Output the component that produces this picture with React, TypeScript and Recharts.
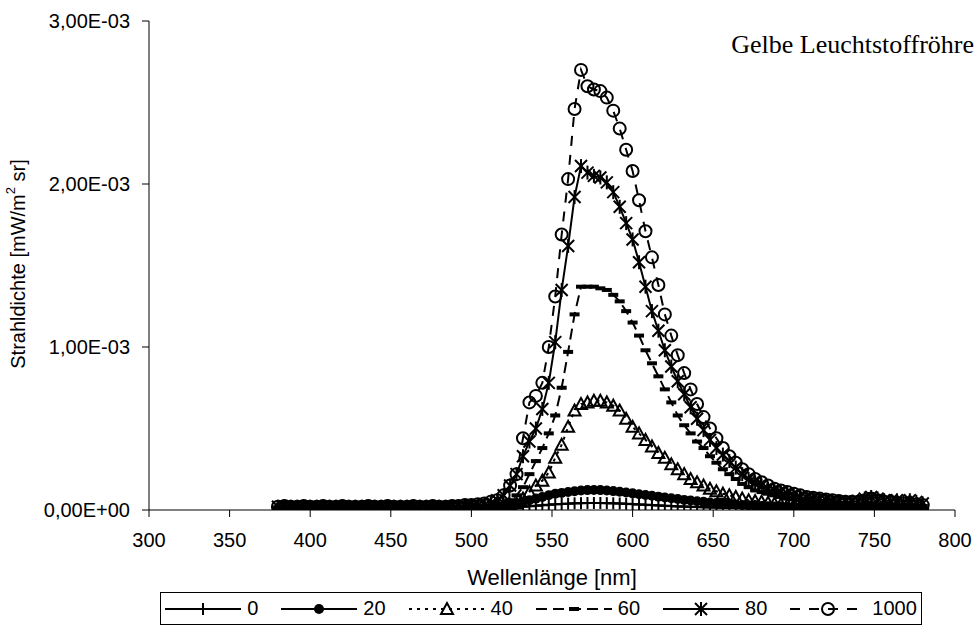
import React from 'react';
import { LineChart, Line, XAxis, YAxis, Label } from 'recharts';

const wavelengths = [
  380, 384, 388, 392, 396, 400, 404, 408, 412, 416, 420, 424, 428, 432, 436, 440, 444, 448, 452, 456,
  460, 464, 468, 472, 476, 480, 484, 488, 492, 496, 500, 504, 508,
  512, 516, 520, 524, 528, 532, 536, 540, 544, 548, 552, 556, 560, 564, 568, 572, 576, 580, 584, 588,
  592, 596, 600, 604, 608, 612, 616, 620, 624, 628, 632, 636, 640, 644, 648, 652, 656, 660, 664, 668,
  672, 676, 680, 684, 688, 692, 696, 700, 704, 708, 712, 716, 720, 724, 728, 732, 736, 740, 744, 748,
  752, 756, 760, 764, 768, 772, 776, 780,
];

const s0 = [
  0.005e-3, 0.006e-3, 0.005e-3, 0.005e-3, 0.006e-3, 0.005e-3, 0.005e-3, 0.005e-3, 0.006e-3, 0.005e-3,
  0.005e-3, 0.006e-3, 0.005e-3, 0.005e-3, 0.005e-3, 0.006e-3, 0.005e-3, 0.005e-3, 0.006e-3, 0.005e-3,
  0.005e-3, 0.005e-3, 0.006e-3, 0.005e-3, 0.005e-3, 0.006e-3, 0.005e-3, 0.005e-3, 0.005e-3, 0.006e-3,
  0.005e-3, 0.005e-3, 0.006e-3,
  0.006e-3, 0.008e-3, 0.01e-3, 0.013e-3, 0.016e-3,
  0.02e-3, 0.023e-3, 0.026e-3, 0.029e-3, 0.032e-3,
  0.035e-3, 0.037e-3, 0.039e-3, 0.041e-3, 0.042e-3,
  0.043e-3, 0.043e-3, 0.043e-3, 0.042e-3, 0.041e-3,
  0.04e-3, 0.038e-3, 0.036e-3, 0.034e-3, 0.032e-3,
  0.03e-3, 0.028e-3, 0.026e-3, 0.024e-3, 0.022e-3,
  0.021e-3, 0.02e-3, 0.018e-3, 0.017e-3, 0.016e-3,
  0.015e-3, 0.014e-3, 0.013e-3, 0.012e-3, 0.011e-3,
  0.011e-3, 0.01e-3, 0.01e-3, 0.009e-3, 0.009e-3,
  0.008e-3, 0.008e-3, 0.008e-3, 0.008e-3, 0.007e-3,
  0.007e-3, 0.007e-3, 0.007e-3, 0.007e-3, 0.007e-3,
  0.007e-3, 0.007e-3, 0.007e-3, 0.008e-3, 0.008e-3,
  0.007e-3, 0.007e-3, 0.007e-3, 0.006e-3, 0.006e-3,
  0.006e-3, 0.006e-3, 0.006e-3,
];

const s20 = [
  0.008e-3, 0.009e-3, 0.008e-3, 0.008e-3, 0.009e-3, 0.008e-3, 0.008e-3, 0.009e-3, 0.008e-3, 0.008e-3,
  0.009e-3, 0.008e-3, 0.008e-3, 0.008e-3, 0.009e-3, 0.008e-3, 0.008e-3, 0.009e-3, 0.008e-3, 0.008e-3,
  0.008e-3, 0.009e-3, 0.008e-3, 0.008e-3, 0.009e-3, 0.008e-3, 0.008e-3, 0.009e-3, 0.008e-3, 0.009e-3,
  0.009e-3, 0.009e-3, 0.01e-3,
  0.01e-3, 0.015e-3, 0.02e-3, 0.03e-3, 0.04e-3,
  0.05e-3, 0.06e-3, 0.07e-3, 0.08e-3, 0.09e-3,
  0.1e-3, 0.105e-3, 0.11e-3, 0.115e-3, 0.12e-3,
  0.122e-3, 0.123e-3, 0.122e-3, 0.12e-3, 0.116e-3,
  0.112e-3, 0.107e-3, 0.102e-3, 0.097e-3, 0.092e-3,
  0.087e-3, 0.082e-3, 0.077e-3, 0.072e-3, 0.067e-3,
  0.062e-3, 0.058e-3, 0.054e-3, 0.05e-3, 0.046e-3,
  0.043e-3, 0.04e-3, 0.037e-3, 0.034e-3, 0.031e-3,
  0.029e-3, 0.027e-3, 0.025e-3, 0.023e-3, 0.022e-3,
  0.021e-3, 0.02e-3, 0.019e-3, 0.018e-3, 0.017e-3,
  0.017e-3, 0.016e-3, 0.016e-3, 0.015e-3, 0.015e-3,
  0.015e-3, 0.015e-3, 0.016e-3, 0.018e-3, 0.016e-3,
  0.015e-3, 0.015e-3, 0.014e-3, 0.014e-3, 0.014e-3,
  0.013e-3, 0.013e-3, 0.012e-3,
];

const s40 = [
  0.012e-3, 0.013e-3, 0.012e-3, 0.012e-3, 0.013e-3, 0.012e-3, 0.012e-3, 0.013e-3, 0.012e-3, 0.012e-3,
  0.013e-3, 0.012e-3, 0.012e-3, 0.012e-3, 0.013e-3, 0.012e-3, 0.012e-3, 0.013e-3, 0.012e-3, 0.012e-3,
  0.012e-3, 0.013e-3, 0.012e-3, 0.012e-3, 0.013e-3, 0.012e-3, 0.012e-3, 0.013e-3, 0.013e-3, 0.013e-3,
  0.013e-3, 0.014e-3, 0.014e-3,
  0.015e-3, 0.02e-3, 0.025e-3, 0.03e-3, 0.04e-3,
  0.07e-3, 0.11e-3, 0.15e-3, 0.18e-3, 0.23e-3,
  0.32e-3, 0.4e-3, 0.51e-3, 0.61e-3, 0.65e-3,
  0.66e-3, 0.67e-3, 0.67e-3, 0.66e-3, 0.64e-3,
  0.61e-3, 0.56e-3, 0.51e-3, 0.47e-3, 0.43e-3,
  0.39e-3, 0.35e-3, 0.32e-3, 0.28e-3, 0.25e-3,
  0.22e-3, 0.19e-3, 0.17e-3, 0.15e-3, 0.13e-3,
  0.115e-3, 0.1e-3, 0.09e-3, 0.08e-3, 0.07e-3,
  0.06e-3, 0.055e-3, 0.05e-3, 0.045e-3, 0.04e-3,
  0.035e-3, 0.03e-3, 0.03e-3, 0.025e-3, 0.025e-3,
  0.02e-3, 0.02e-3, 0.02e-3, 0.02e-3, 0.02e-3,
  0.02e-3, 0.02e-3, 0.02e-3, 0.025e-3, 0.025e-3,
  0.02e-3, 0.02e-3, 0.02e-3, 0.02e-3, 0.02e-3,
  0.02e-3, 0.02e-3, 0.02e-3,
];

const s60 = [
  0.015e-3, 0.016e-3, 0.015e-3, 0.015e-3, 0.016e-3, 0.015e-3, 0.015e-3, 0.016e-3, 0.015e-3, 0.015e-3,
  0.016e-3, 0.015e-3, 0.015e-3, 0.015e-3, 0.016e-3, 0.015e-3, 0.015e-3, 0.016e-3, 0.015e-3, 0.015e-3,
  0.015e-3, 0.016e-3, 0.015e-3, 0.015e-3, 0.016e-3, 0.015e-3, 0.015e-3, 0.016e-3, 0.016e-3, 0.017e-3,
  0.017e-3, 0.018e-3, 0.018e-3,
  0.02e-3, 0.03e-3, 0.04e-3, 0.06e-3, 0.09e-3,
  0.14e-3, 0.22e-3, 0.3e-3, 0.38e-3, 0.47e-3,
  0.58e-3, 0.75e-3, 0.97e-3, 1.2e-3, 1.37e-3,
  1.37e-3, 1.37e-3, 1.36e-3, 1.35e-3, 1.32e-3,
  1.28e-3, 1.22e-3, 1.15e-3, 1.07e-3, 0.98e-3,
  0.9e-3, 0.82e-3, 0.74e-3, 0.66e-3, 0.58e-3,
  0.52e-3, 0.47e-3, 0.42e-3, 0.38e-3, 0.33e-3,
  0.29e-3, 0.25e-3, 0.22e-3, 0.19e-3, 0.16e-3,
  0.14e-3, 0.12e-3, 0.11e-3, 0.1e-3, 0.09e-3,
  0.08e-3, 0.07e-3, 0.065e-3, 0.06e-3, 0.055e-3,
  0.05e-3, 0.045e-3, 0.04e-3, 0.04e-3, 0.035e-3,
  0.035e-3, 0.03e-3, 0.03e-3, 0.035e-3, 0.04e-3,
  0.035e-3, 0.03e-3, 0.03e-3, 0.03e-3, 0.03e-3,
  0.025e-3, 0.025e-3, 0.025e-3,
];

const s80 = [
  0.02e-3, 0.022e-3, 0.02e-3, 0.02e-3, 0.022e-3, 0.02e-3, 0.02e-3, 0.022e-3, 0.02e-3, 0.02e-3,
  0.022e-3, 0.02e-3, 0.02e-3, 0.02e-3, 0.022e-3, 0.02e-3, 0.02e-3, 0.022e-3, 0.02e-3, 0.02e-3,
  0.02e-3, 0.022e-3, 0.02e-3, 0.02e-3, 0.022e-3, 0.02e-3, 0.02e-3, 0.022e-3, 0.022e-3, 0.024e-3,
  0.025e-3, 0.028e-3, 0.03e-3,
  0.04e-3, 0.06e-3, 0.09e-3, 0.15e-3, 0.22e-3,
  0.33e-3, 0.42e-3, 0.5e-3, 0.62e-3, 0.78e-3,
  1.03e-3, 1.35e-3, 1.62e-3, 1.92e-3, 2.11e-3,
  2.07e-3, 2.05e-3, 2.04e-3, 2.01e-3, 1.95e-3,
  1.86e-3, 1.76e-3, 1.66e-3, 1.52e-3, 1.37e-3,
  1.22e-3, 1.1e-3, 0.98e-3, 0.88e-3, 0.79e-3,
  0.71e-3, 0.63e-3, 0.56e-3, 0.49e-3, 0.43e-3,
  0.38e-3, 0.34e-3, 0.3e-3, 0.26e-3, 0.22e-3,
  0.19e-3, 0.17e-3, 0.15e-3, 0.13e-3, 0.12e-3,
  0.11e-3, 0.1e-3, 0.09e-3, 0.08e-3, 0.075e-3,
  0.07e-3, 0.065e-3, 0.06e-3, 0.055e-3, 0.05e-3,
  0.05e-3, 0.05e-3, 0.055e-3, 0.07e-3, 0.08e-3,
  0.07e-3, 0.06e-3, 0.055e-3, 0.06e-3, 0.05e-3,
  0.06e-3, 0.05e-3, 0.04e-3,
];

const s1000 = [
  0.02e-3, 0.025e-3, 0.02e-3, 0.02e-3, 0.025e-3, 0.02e-3, 0.02e-3, 0.025e-3, 0.02e-3, 0.02e-3,
  0.025e-3, 0.02e-3, 0.02e-3, 0.02e-3, 0.025e-3, 0.02e-3, 0.02e-3, 0.025e-3, 0.02e-3, 0.02e-3,
  0.02e-3, 0.025e-3, 0.02e-3, 0.02e-3, 0.025e-3, 0.02e-3, 0.02e-3, 0.025e-3, 0.025e-3, 0.03e-3,
  0.03e-3, 0.035e-3, 0.04e-3,
  0.05e-3, 0.06e-3, 0.09e-3, 0.15e-3, 0.22e-3,
  0.44e-3, 0.66e-3, 0.7e-3, 0.78e-3, 1.0e-3,
  1.31e-3, 1.69e-3, 2.03e-3, 2.46e-3, 2.7e-3,
  2.6e-3, 2.58e-3, 2.57e-3, 2.53e-3, 2.45e-3,
  2.34e-3, 2.21e-3, 2.08e-3, 1.9e-3, 1.71e-3,
  1.55e-3, 1.38e-3, 1.2e-3, 1.07e-3, 0.95e-3,
  0.84e-3, 0.74e-3, 0.65e-3, 0.57e-3, 0.5e-3,
  0.44e-3, 0.38e-3, 0.33e-3, 0.29e-3, 0.25e-3,
  0.22e-3, 0.19e-3, 0.17e-3, 0.15e-3, 0.13e-3,
  0.12e-3, 0.11e-3, 0.1e-3, 0.09e-3, 0.08e-3,
  0.075e-3, 0.07e-3, 0.065e-3, 0.06e-3, 0.055e-3,
  0.05e-3, 0.05e-3, 0.05e-3, 0.06e-3, 0.07e-3,
  0.06e-3, 0.05e-3, 0.045e-3, 0.04e-3, 0.04e-3,
  0.035e-3, 0.035e-3, 0.03e-3,
];

const seriesNames = ['0', '20', '40', '60', '80', '1000'];
const xTicks = [300, 350, 400, 450, 500, 550, 600, 650, 700, 750, 800];
const yTicks = [0, 0.001, 0.002, 0.003];
const yTickLabels = ['0,00E+00', '1,00E-03', '2,00E-03', '3,00E-03'];

const data = wavelengths.map((w, i) => ({
  w,
  s0: s0[i],
  s20: s20[i],
  s40: s40[i],
  s60: s60[i],
  s80: s80[i],
  s1000: s1000[i],
}));

const series = [
  { key: 's0', name: seriesNames[0], marker: 'plus', dash: undefined },
  { key: 's20', name: seriesNames[1], marker: 'dot', dash: undefined },
  { key: 's40', name: seriesNames[2], marker: 'triangle', dash: '3 5' },
  { key: 's60', name: seriesNames[3], marker: 'bar', dash: '11 6' },
  { key: 's80', name: seriesNames[4], marker: 'star', dash: undefined },
  { key: 's1000', name: seriesNames[5], marker: 'circle', dash: '10 9' },
];

const SANS = '"Liberation Sans", Arial, Helvetica, sans-serif';
const SERIF = '"Liberation Serif", "Times New Roman", serif';
const SW = 2;

function Marker({ type, cx, cy }: { type: string; cx: number; cy: number }) {
  if (cx == null || cy == null || isNaN(cx) || isNaN(cy)) return null;
  switch (type) {
    case 'plus':
      return (
        <g stroke="#000" strokeWidth={SW}>
          <line x1={cx - 6} y1={cy} x2={cx + 6} y2={cy} />
          <line x1={cx} y1={cy - 6} x2={cx} y2={cy + 6} />
        </g>
      );
    case 'dot':
      return <circle cx={cx} cy={cy} r={5} fill="#000" />;
    case 'triangle':
      return (
        <polygon
          points={`${cx},${cy - 6} ${cx - 6},${cy + 5} ${cx + 6},${cy + 5}`}
          fill="none"
          stroke="#000"
          strokeWidth={SW}
        />
      );
    case 'bar':
      return <rect x={cx - 5} y={cy - 2} width={10} height={4} fill="#000" />;
    case 'star':
      return (
        <g stroke="#000" strokeWidth={SW}>
          <line x1={cx - 6} y1={cy - 6} x2={cx + 6} y2={cy + 6} />
          <line x1={cx - 6} y1={cy + 6} x2={cx + 6} y2={cy - 6} />
          <line x1={cx} y1={cy - 7} x2={cx} y2={cy + 7} />
        </g>
      );
    case 'circle':
      return <circle cx={cx} cy={cy} r={6} fill="none" stroke="#000" strokeWidth={SW} />;
    default:
      return null;
  }
}

const makeDot = (type: string) => (props: any) => (
  <g key={`${type}-${props.index}`}>
    <Marker type={type} cx={props.cx} cy={props.cy} />
  </g>
);

function LegendIcon({ marker, dash }: { marker: string; dash?: string }) {
  return (
    <svg width={76} height={18} style={{ display: 'block' }}>
      <line x1={0} y1={9} x2={76} y2={9} stroke="#000" strokeWidth={SW} strokeDasharray={dash} />
      <Marker type={marker} cx={38} cy={9} />
    </svg>
  );
}

const YLabel = () => (
  <text
    transform="translate(18,264) rotate(-90)"
    textAnchor="middle"
    dominantBaseline="central"
    fontSize={20}
    fontFamily={SANS}
    fill="#000"
  >
    Strahldichte [mW/m
    <tspan dy={-8} fontSize={13}>
      2
    </tspan>
    <tspan dy={8}> sr]</tspan>
  </text>
);

export default function App() {
  return (
    <div
      style={{
        position: 'absolute',
        left: 0,
        top: 0,
        width: 979,
        height: 627,
        background: '#fff',
        fontFamily: SANS,
      }}
    >
      <LineChart
        width={979}
        height={627}
        data={data}
        margin={{ top: 21, right: 24, left: 0, bottom: 0 }}
      >
        <XAxis
          dataKey="w"
          type="number"
          domain={[300, 800]}
          ticks={xTicks}
          height={117}
          tickSize={7}
          tickMargin={16}
          stroke="#000"
          tick={{ fill: '#000', fontSize: 20, fontFamily: SANS }}
          allowDataOverflow
        >
          <Label
            value="Wellenlänge [nm]"
            position="insideTop"
            offset={59}
            style={{ fill: '#000', fontSize: 22, fontFamily: SANS }}
          />
        </XAxis>
        <YAxis
          type="number"
          domain={[0, 0.003]}
          ticks={yTicks}
          width={149}
          tickSize={7}
          tickMargin={12}
          stroke="#000"
          tick={{ fill: '#000', fontSize: 20, fontFamily: SANS }}
          tickFormatter={(v: number, i: number) => yTickLabels[i]}
          allowDataOverflow
        >
          <Label content={() => <YLabel />} />
        </YAxis>
        {series.map((s) => (
          <Line
            key={s.key}
            dataKey={s.key}
            name={s.name}
            stroke="#000"
            strokeWidth={SW}
            strokeDasharray={s.dash}
            dot={makeDot(s.marker)}
            activeDot={false}
            isAnimationActive={false}
            type="linear"
          />
        ))}
      </LineChart>

      <div
        style={{
          position: 'absolute',
          right: 5,
          top: 32,
          fontFamily: SERIF,
          fontSize: 26,
          lineHeight: '26px',
          color: '#000',
          whiteSpace: 'nowrap',
        }}
      >
        Gelbe Leuchtstoffröhre
      </div>

      <div
        style={{
          position: 'absolute',
          left: 160,
          top: 592,
          width: 762,
          height: 33,
          boxSizing: 'border-box',
          border: '1px solid #000',
          display: 'flex',
          alignItems: 'center',
          justifyContent: 'center',
          fontSize: 20,
          fontFamily: SANS,
          color: '#000',
        }}
      >
        {series.map((s, i) => (
          <div
            key={s.key}
            style={{ display: 'flex', alignItems: 'center', marginRight: i === series.length - 1 ? 0 : 23 }}
          >
            <LegendIcon marker={s.marker} dash={s.dash} />
            <span style={{ marginLeft: 6 }}>{s.name}</span>
          </div>
        ))}
      </div>
    </div>
  );
}
